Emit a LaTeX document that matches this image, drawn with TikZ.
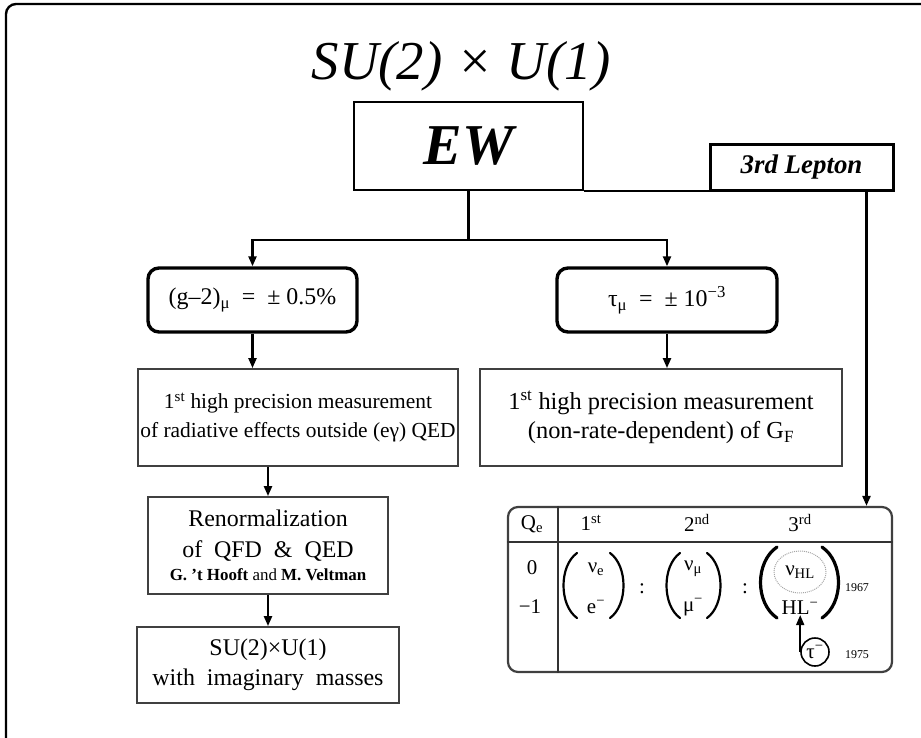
\documentclass[tikz,border=0pt]{standalone}
\usepackage{fontspec}
\setmainfont{Liberation Serif}
\usetikzlibrary{arrows.meta,positioning,calc}

\begin{document}
\begin{tikzpicture}[x=1bp,y=-1bp,>={Triangle[length=10bp,width=8bp]},every node/.style={inner sep=0pt}]
\tikzset{ewbox/.style={draw,line width=2bp,minimum width=229bp,minimum height=88bp,font=\fontsize{58}{60}\selectfont\bfseries\itshape},
  tagbox/.style={draw,line width=3bp,minimum width=183bp,minimum height=46bp,font=\fontsize{27}{30}\selectfont\bfseries\itshape},
  resbox/.style={draw,line width=3.4bp,rounded corners=11bp,minimum height=64bp,font=\fontsize{24}{30}\selectfont},
  factbox/.style={draw=black!75,line width=1.8bp,align=center,font=\fontsize{24.5}{29}\selectfont},
  link/.style={->,line width=2.2bp},
  tabtxt/.style={font=\fontsize{21}{24}\selectfont},
  paren/.style={line width=2.2bp,line cap=round}}
\useasboundingbox (0,0) rectangle (921,738);
% frame
\draw[line width=2.4bp,rounded corners=10bp] (6,738) -- (6,4) -- (930,4);
% top
\node[font=\fontsize{55}{60}\selectfont\itshape] (title) at (461,66) {SU(2) × U(1)};
\node[ewbox] (ew) at (468.5,146) {EW};
\node[tagbox] (lepton) at (801.5,167) {3rd Lepton};
% results
\node[resbox,minimum width=209bp] (gmtwo) at (252.5,300) {(g–2)\textsubscript{μ} \ = \ ± 0.5\%};
\node[resbox,minimum width=220bp] (taumu) at (667,300) {τ\textsubscript{μ} \ = \ ± 10\textsuperscript{−3}};
\node[factbox,minimum width=320bp,minimum height=97bp,font=\fontsize{21.5}{29}\selectfont] (radmeas) at (298,417.5) {1\textsuperscript{st} high precision measurement\\of radiative effects outside (eγ) QED};
\node[factbox,minimum width=362bp,minimum height=97bp] (gfmeas) at (661,417.5) {1\textsuperscript{st} high precision measurement\\(non-rate-dependent) of G\textsubscript{F}};
\node[factbox,minimum width=240bp,minimum height=97bp,font=\fontsize{24}{31}\selectfont] (renorm) at (268,545.5) {Renormalization\\of \ QFD \ \& \ QED\\[-8bp]{\fontsize{17}{20}\selectfont\bfseries G. 't Hooft \mdseries and \bfseries M. Veltman}};
\node[factbox,minimum width=262bp,minimum height=76bp,font=\fontsize{24}{30}\selectfont] (imagm) at (268,665) {SU(2)×U(1)\\with \ imaginary \ masses};
% connectors
\coordinate (split) at ($(ew.south)+(0,49)$);
\draw[line width=2.2bp] (ew.south) -- (split);
\draw[link] (split) -| (gmtwo.north);
\draw[link] (split) -| (taumu.north);
\draw[link] (gmtwo.south) -- (gmtwo.south |- radmeas.north);
\draw[link] (taumu.south) -- (taumu.south |- gfmeas.north);
\draw[link] (radmeas.south -| renorm.north) -- (renorm.north);
\draw[link] (renorm.south) -- (imagm.north);
\draw[line width=2.2bp] (ew.south east) -- (ew.south east -| lepton.west);
\coordinate (drop) at ($(lepton.south east)+(-28,0)$);
% generations table
\node[draw=black!75,line width=2.2bp,rounded corners=10bp,minimum width=384bp,minimum height=165bp] (gens) at (700,589.5) {};
\draw[link] (drop) -- (drop |- gens.north);
\coordinate (hdr) at (0,542);
\coordinate (col) at (558,0);
\draw[line width=1.8bp,black!80] (gens.west |- hdr) -- (gens.east |- hdr);
\draw[line width=1.8bp,black!80] (col |- gens.north) -- (col |- gens.south);
\node[tabtxt] (qe) at (532,524) {Q\textsubscript{e}};
\node[tabtxt] (gen1) at (591,523) {1\textsuperscript{st}};
\node[tabtxt] (gen2) at (697,523) {2\textsuperscript{nd}};
\node[tabtxt] (gen3) at (800,523) {3\textsuperscript{rd}};
\node[tabtxt] (qzero) at (532,568) {0};
\node[tabtxt] (qminus) at (530,607) {−1};
\node[tabtxt] (nue) at (596,569) {ν\textsubscript{e}};
\node[tabtxt] (el) at (596,607) {e\textsuperscript{−}};
\node[tabtxt] (numu) at (693,569) {ν\textsubscript{μ}};
\node[tabtxt] (mu) at (693,607) {μ\textsuperscript{−}};
\node[tabtxt] (nuhl) at (800,572) {ν\textsubscript{HL}};
\node[tabtxt] (hl) at (800,608) {HL\textsuperscript{−}};
\node[tabtxt] (sepa) at (642,589) {:};
\node[tabtxt] (sepb) at (745,589) {:};
\draw[black!35,densely dotted,line width=1bp] (nuhl) ellipse (26bp and 21bp);
% parentheses
\draw[paren] (577,553) .. controls (559,566) and (559,605) .. (577,618);
\draw[paren] (610,553) .. controls (628,566) and (628,605) .. (610,618);
\draw[paren] (680,553) .. controls (662,566) and (662,605) .. (680,618);
\draw[paren] (707,553) .. controls (725,566) and (725,605) .. (707,618);
\draw[paren,line width=3.2bp] (777,547) .. controls (755,562) and (755,603) .. (777,618);
\draw[paren,line width=3.2bp] (822,547) .. controls (844,562) and (844,603) .. (822,618);
\node[font=\fontsize{12}{14}\selectfont] (yr67) at (857,588) {1967};
\node[tabtxt,draw,circle,line width=1.6bp,minimum size=28bp] (tauc) at (815,652) {τ\textsuperscript{−}};
\node[font=\fontsize{12}{14}\selectfont] (yr75) at (857,655) {1975};
\draw[->,line width=1.8bp] (tauc.west) -- (tauc.west |- hl.south);
\end{tikzpicture}
\end{document}
